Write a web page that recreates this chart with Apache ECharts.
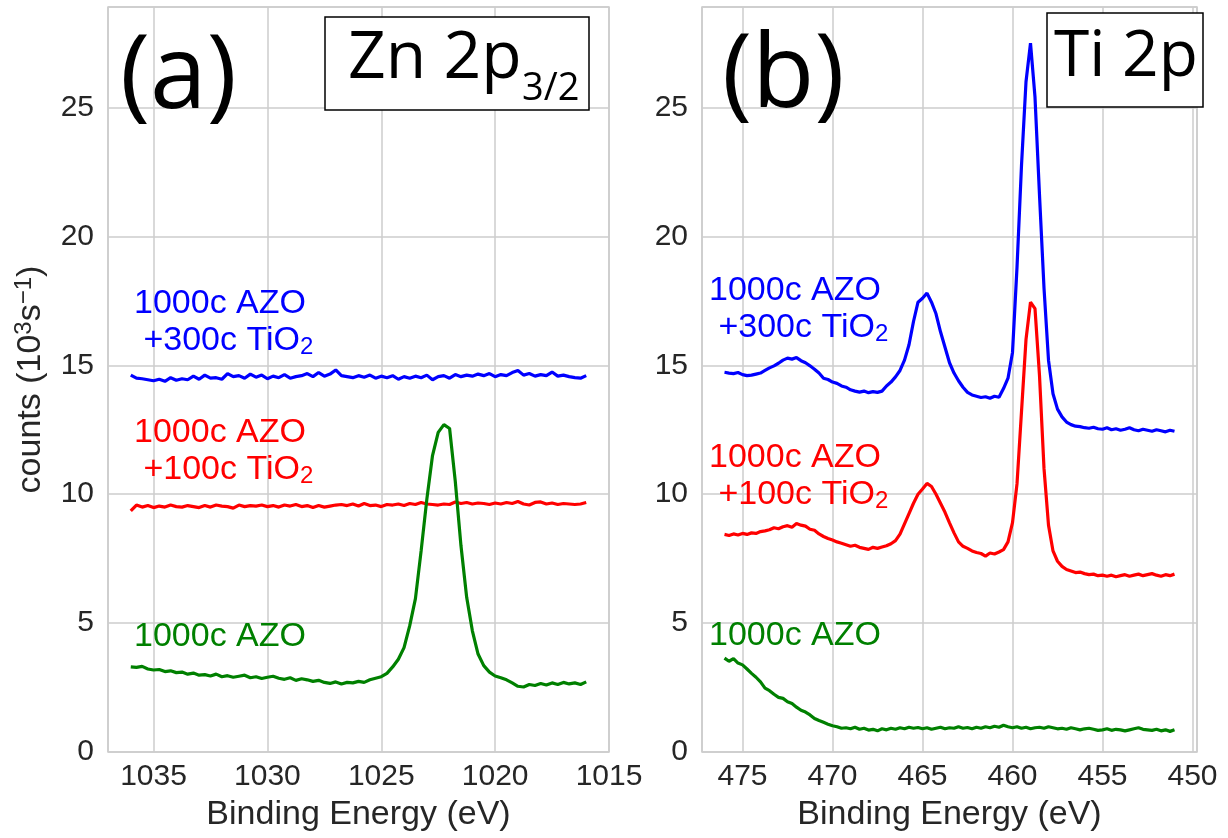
<!DOCTYPE html>
<html>
<head>
<meta charset="utf-8">
<script src="https://cdn.jsdelivr.net/npm/echarts@6/dist/echarts.min.js"></script>
<style>
html, body { margin: 0; padding: 0; background: #fff; }
#container { width: 1228px; height: 838px; }
</style>
</head>
<body>
<div id="container"></div>
<script>
// binding energy grids (eV)
var energyZn = [
  1036, 1035.75, 1035.5, 1035.25,
  1035, 1034.75, 1034.5, 1034.25,
  1034, 1033.75, 1033.5, 1033.25,
  1033, 1032.75, 1032.5, 1032.25,
  1032, 1031.75, 1031.5, 1031.25,
  1031, 1030.75, 1030.5, 1030.25,
  1030, 1029.75, 1029.5, 1029.25,
  1029, 1028.75, 1028.5, 1028.25,
  1028, 1027.75, 1027.5, 1027.25,
  1027, 1026.75, 1026.5, 1026.25,
  1026, 1025.75, 1025.5, 1025.25,
  1025, 1024.75, 1024.5, 1024.25,
  1024, 1023.75, 1023.5, 1023.25,
  1023, 1022.75, 1022.5, 1022.25,
  1022, 1021.75, 1021.5, 1021.25,
  1021, 1020.75, 1020.5, 1020.25,
  1020, 1019.75, 1019.5, 1019.25,
  1019, 1018.75, 1018.5, 1018.25,
  1018, 1017.75, 1017.5, 1017.25,
  1017, 1016.75, 1016.5, 1016.25,
  1016
];
var energyTi = [
  476, 475.75, 475.5, 475.25,
  475, 474.75, 474.5, 474.25,
  474, 473.75, 473.5, 473.25,
  473, 472.75, 472.5, 472.25,
  472, 471.75, 471.5, 471.25,
  471, 470.75, 470.5, 470.25,
  470, 469.75, 469.5, 469.25,
  469, 468.75, 468.5, 468.25,
  468, 467.75, 467.5, 467.25,
  467, 466.75, 466.5, 466.25,
  466, 465.75, 465.5, 465.25,
  465, 464.75, 464.5, 464.25,
  464, 463.75, 463.5, 463.25,
  463, 462.75, 462.5, 462.25,
  462, 461.75, 461.5, 461.25,
  461, 460.75, 460.5, 460.25,
  460, 459.75, 459.5, 459.25,
  459, 458.75, 458.5, 458.25,
  458, 457.75, 457.5, 457.25,
  457, 456.75, 456.5, 456.25,
  456, 455.75, 455.5, 455.25,
  455, 454.75, 454.5, 454.25,
  454, 453.75, 453.5, 453.25,
  453, 452.75, 452.5, 452.25,
  452, 451.75, 451.5, 451.25,
  451
];

// Zn 2p3/2 counts (10^3 s^-1)
var znTi300 = [
  14.62, 14.50, 14.48, 14.44,
  14.40, 14.46, 14.38, 14.52,
  14.42, 14.48, 14.44, 14.58,
  14.46, 14.62, 14.50, 14.52,
  14.46, 14.68, 14.56, 14.60,
  14.50, 14.66, 14.54, 14.62,
  14.48, 14.58, 14.52, 14.64,
  14.50, 14.56, 14.60, 14.68,
  14.56, 14.72, 14.58, 14.66,
  14.82, 14.60, 14.56, 14.52,
  14.60, 14.54, 14.62, 14.50,
  14.58, 14.52, 14.60, 14.46,
  14.56, 14.50, 14.58, 14.52,
  14.62, 14.44, 14.56, 14.60,
  14.50, 14.64, 14.56, 14.62,
  14.58, 14.66, 14.60, 14.68,
  14.56, 14.64, 14.60, 14.72,
  14.80, 14.62, 14.68, 14.58,
  14.64, 14.60, 14.74, 14.58,
  14.62, 14.56, 14.52, 14.50,
  14.60
];
var znTi100 = [
  9.35, 9.58, 9.50, 9.56,
  9.48, 9.54, 9.50, 9.58,
  9.52, 9.50, 9.56, 9.52,
  9.48, 9.56, 9.50, 9.58,
  9.54, 9.52, 9.46, 9.58,
  9.52, 9.56, 9.54, 9.58,
  9.52, 9.56, 9.50, 9.58,
  9.54, 9.60, 9.52, 9.56,
  9.48, 9.56, 9.50, 9.54,
  9.58, 9.60, 9.56, 9.62,
  9.54, 9.64, 9.56, 9.58,
  9.52, 9.60, 9.58, 9.62,
  9.56, 9.64, 9.60, 9.68,
  9.62, 9.60, 9.58, 9.62,
  9.60, 9.70, 9.64, 9.68,
  9.62, 9.66, 9.64, 9.60,
  9.66, 9.62, 9.68, 9.64,
  9.72, 9.62, 9.58, 9.68,
  9.70, 9.62, 9.66, 9.60,
  9.64, 9.62, 9.60, 9.62,
  9.68
];
var znAzo = [
  3.30, 3.28, 3.32, 3.22,
  3.18, 3.20, 3.12, 3.15,
  3.08, 3.10, 3.02, 3.06,
  2.98, 3.00, 2.95, 3.02,
  2.92, 2.96, 2.90, 2.94,
  2.98, 2.88, 2.92, 2.85,
  2.90, 2.94, 2.86, 2.82,
  2.88, 2.78, 2.84, 2.80,
  2.74, 2.78, 2.70, 2.66,
  2.72, 2.64, 2.70, 2.68,
  2.74, 2.70, 2.80, 2.86,
  2.92, 3.05, 3.30, 3.60,
  4.05, 4.90, 5.95, 7.80,
  9.80, 11.50, 12.40, 12.70,
  12.55, 10.50, 8.00, 6.00,
  4.70, 3.80, 3.35, 3.10,
  2.95, 2.88, 2.80, 2.68,
  2.55, 2.52, 2.62, 2.58,
  2.66, 2.60, 2.68, 2.62,
  2.70, 2.64, 2.68, 2.62,
  2.72
];

// Ti 2p counts (10^3 s^-1)
var tiTi300 = [
  14.73, 14.70, 14.68, 14.72,
  14.64, 14.60, 14.62, 14.66,
  14.70, 14.80, 14.90, 14.98,
  15.08, 15.20, 15.28, 15.24,
  15.30, 15.18, 15.10, 14.98,
  14.85, 14.70, 14.50, 14.45,
  14.35, 14.30, 14.20, 14.15,
  14.05, 14.00, 13.96, 14.00,
  13.94, 13.98, 13.95, 14.00,
  14.20, 14.35, 14.55, 14.80,
  15.20, 15.80, 16.70, 17.45,
  17.60, 17.80, 17.45, 17.00,
  16.30, 15.70, 15.10, 14.70,
  14.40, 14.15, 13.95, 13.85,
  13.80, 13.75, 13.78, 13.72,
  13.80, 13.76, 14.10, 14.50,
  15.50, 18.80, 22.75, 26.00,
  27.50, 25.40, 21.60, 18.00,
  15.20, 13.90, 13.30, 13.00,
  12.80, 12.70, 12.64, 12.62,
  12.58, 12.56, 12.60, 12.54,
  12.52, 12.58, 12.50, 12.54,
  12.48, 12.52, 12.58, 12.50,
  12.46, 12.52, 12.48, 12.44,
  12.50, 12.46, 12.42, 12.48,
  12.44
];
var tiTi100 = [
  8.44, 8.40, 8.46, 8.42,
  8.48, 8.44, 8.50, 8.48,
  8.55, 8.58, 8.62, 8.70,
  8.66, 8.74, 8.78, 8.72,
  8.86, 8.80, 8.76, 8.64,
  8.60, 8.46, 8.36, 8.28,
  8.22, 8.15, 8.10, 8.04,
  7.98, 8.02, 7.94, 7.90,
  7.86, 7.94, 7.90, 7.95,
  8.00, 8.08, 8.20, 8.45,
  8.85, 9.25, 9.65, 10.00,
  10.20, 10.42, 10.30, 10.00,
  9.65, 9.30, 8.89, 8.50,
  8.15, 7.98, 7.90, 7.80,
  7.74, 7.70, 7.60, 7.72,
  7.68, 7.76, 7.85, 8.15,
  8.90, 10.40, 13.20, 16.00,
  17.45, 17.20, 14.60, 11.00,
  8.80, 7.80, 7.40, 7.20,
  7.08, 7.02, 6.96, 6.98,
  6.92, 6.88, 6.90, 6.84,
  6.86, 6.82, 6.86, 6.80,
  6.84, 6.88, 6.82, 6.86,
  6.90, 6.84, 6.88, 6.92,
  6.86, 6.82, 6.88, 6.84,
  6.90
];
var tiAzo = [
  3.64, 3.52, 3.62, 3.45,
  3.38, 3.22, 3.05, 2.90,
  2.72, 2.48, 2.38, 2.24,
  2.12, 2.08, 1.95, 1.88,
  1.74, 1.62, 1.55, 1.44,
  1.30, 1.22, 1.15, 1.08,
  1.02, 0.98, 0.92, 0.94,
  0.90, 0.96, 0.88, 0.92,
  0.85, 0.88, 0.82, 0.90,
  0.86, 0.92, 0.88, 0.94,
  0.90, 0.96, 0.92, 0.95,
  0.90, 0.94, 0.88, 0.92,
  0.96, 0.90, 0.94, 0.92,
  0.98, 0.92, 0.95, 0.90,
  0.96, 0.92, 0.98, 0.94,
  1.00, 0.96, 1.04, 0.98,
  0.94, 0.98, 0.92, 0.96,
  0.90, 0.94, 0.96, 0.92,
  0.98, 0.94, 0.90, 0.92,
  0.88, 0.94, 0.90, 0.86,
  0.90, 0.92, 0.88, 0.84,
  0.86, 0.90, 0.84, 0.88,
  0.86, 0.82, 0.86, 0.90,
  0.94, 0.88, 0.86, 0.84,
  0.88, 0.82, 0.86, 0.80,
  0.86
];

var sampleNames = ['1000c AZO +300c TiO2', '1000c AZO +100c TiO2', '1000c AZO'];
var sampleColors = ['#0000ff', '#ff0000', '#008000'];

function pairs(xs, ys) {
  return xs.map(function (x, i) { return [x, ys[i]]; });
}

var chart = echarts.init(document.getElementById('container'));
var sans = "'Liberation Sans', Arial, sans-serif";
var boxSans = "'Open Sans', 'Noto Sans', sans-serif";
var ink = '#262626';
var gridLine = { lineStyle: { color: '#cccccc', width: 1.5 } };

function xAxisOf(idx, min, max) {
  return {
    type: 'value', gridIndex: idx, inverse: true, min: min, max: max,
    splitNumber: 5, minInterval: 5, maxInterval: 5,
    axisLine: { show: false }, axisTick: { show: false },
    splitLine: gridLine,
    axisLabel: {
      showMinLabel: min % 5 === 0, showMaxLabel: false,
      fontSize: 30, fontFamily: sans, color: ink, margin: 10,
      formatter: function (v) { return String(v); }
    },
    name: 'Binding Energy (eV)', nameLocation: 'middle', nameGap: 46,
    nameTextStyle: { fontSize: 34, fontFamily: sans, color: ink }
  };
}
function yAxisOf(idx, withName) {
  var ax = {
    type: 'value', gridIndex: idx, min: 0, max: 28.9, interval: 5,
    axisLine: { show: false }, axisTick: { show: false },
    splitLine: gridLine,
    axisLabel: { showMaxLabel: false, fontSize: 30, fontFamily: sans, color: ink, margin: 14 }
  };
  if (withName) {
    ax.name = 'counts (10{sup|3}s{sup|\u22121})';
    ax.nameLocation = 'middle';
    ax.nameGap = 58;
    ax.nameTextStyle = {
      fontSize: 34, fontFamily: sans, color: ink, lineHeight: 38,
      rich: { sup: { fontSize: 24, fontFamily: sans, color: ink, lineHeight: 18, verticalAlign: 'top' } }
    };
  }
  return ax;
}
function lineSeries(k, idx, xs, ys) {
  return {
    name: sampleNames[k], type: 'line', xAxisIndex: idx, yAxisIndex: idx,
    data: pairs(xs, ys), showSymbol: false, symbol: 'none',
    lineStyle: { color: sampleColors[k], width: 3.2 }, z: 3
  };
}
function sampleLabel(k, left, top) {
  var lines = ['{t|1000c AZO}\n{t| +300c TiO}{s|2}', '{t|1000c AZO}\n{t| +100c TiO}{s|2}', '{t|1000c AZO}'];
  return {
    type: 'text', left: left, top: top, z: 50,
    style: {
      text: lines[k], fill: sampleColors[k], fontSize: 34, fontFamily: sans,
      rich: {
        t: { fontSize: 34, fontFamily: sans, fill: sampleColors[k], lineHeight: 37 },
        s: { fontSize: 24, fontFamily: sans, fill: sampleColors[k], lineHeight: 21, verticalAlign: 'bottom' }
      }
    }
  };
}
function plainText(str, left, top, size) {
  return {
    type: 'text', left: left, top: top, z: 60,
    style: { text: str, fill: '#000', fontSize: size, fontFamily: boxSans, lineHeight: size }
  };
}

var option = {
  animation: false,
  backgroundColor: '#ffffff',
  grid: [
    { left: 108, top: 7, width: 501, height: 745, show: true, borderColor: '#cccccc', borderWidth: 1.5, backgroundColor: '#fff' },
    { left: 702, top: 7, width: 495, height: 745, show: true, borderColor: '#cccccc', borderWidth: 1.5, backgroundColor: '#fff' }
  ],
  xAxis: [xAxisOf(0, 1015, 1037), xAxisOf(1, 449.75, 477.25)],
  yAxis: [yAxisOf(0, true), yAxisOf(1, false)],
  series: [
    lineSeries(0, 0, energyZn, znTi300),
    lineSeries(1, 0, energyZn, znTi100),
    lineSeries(2, 0, energyZn, znAzo),
    lineSeries(0, 1, energyTi, tiTi300),
    lineSeries(1, 1, energyTi, tiTi100),
    lineSeries(2, 1, energyTi, tiAzo)
  ],
  graphic: [
    sampleLabel(0, 134, 287),
    sampleLabel(1, 134, 416),
    sampleLabel(2, 134, 620),
    sampleLabel(0, 709, 274),
    sampleLabel(1, 709, 441),
    sampleLabel(2, 709, 619),
    plainText('(a)', 120, 28, 102),
    plainText('(b)', 722, 27, 102),
    { type: 'rect', z: 55, shape: { x: 325, y: 17, width: 264, height: 93 }, style: { fill: '#fff', stroke: '#000', lineWidth: 1.5 } },
    plainText('Zn 2p', 348, 26, 66),
    plainText('3/2', 522, 70, 38),
    { type: 'rect', z: 55, shape: { x: 1047, y: 13, width: 156, height: 94 }, style: { fill: '#fff', stroke: '#000', lineWidth: 1.5 } },
    plainText('Ti 2p', 1054, 26, 64)
  ]
};

chart.setOption(option);
</script>
</body>
</html>
